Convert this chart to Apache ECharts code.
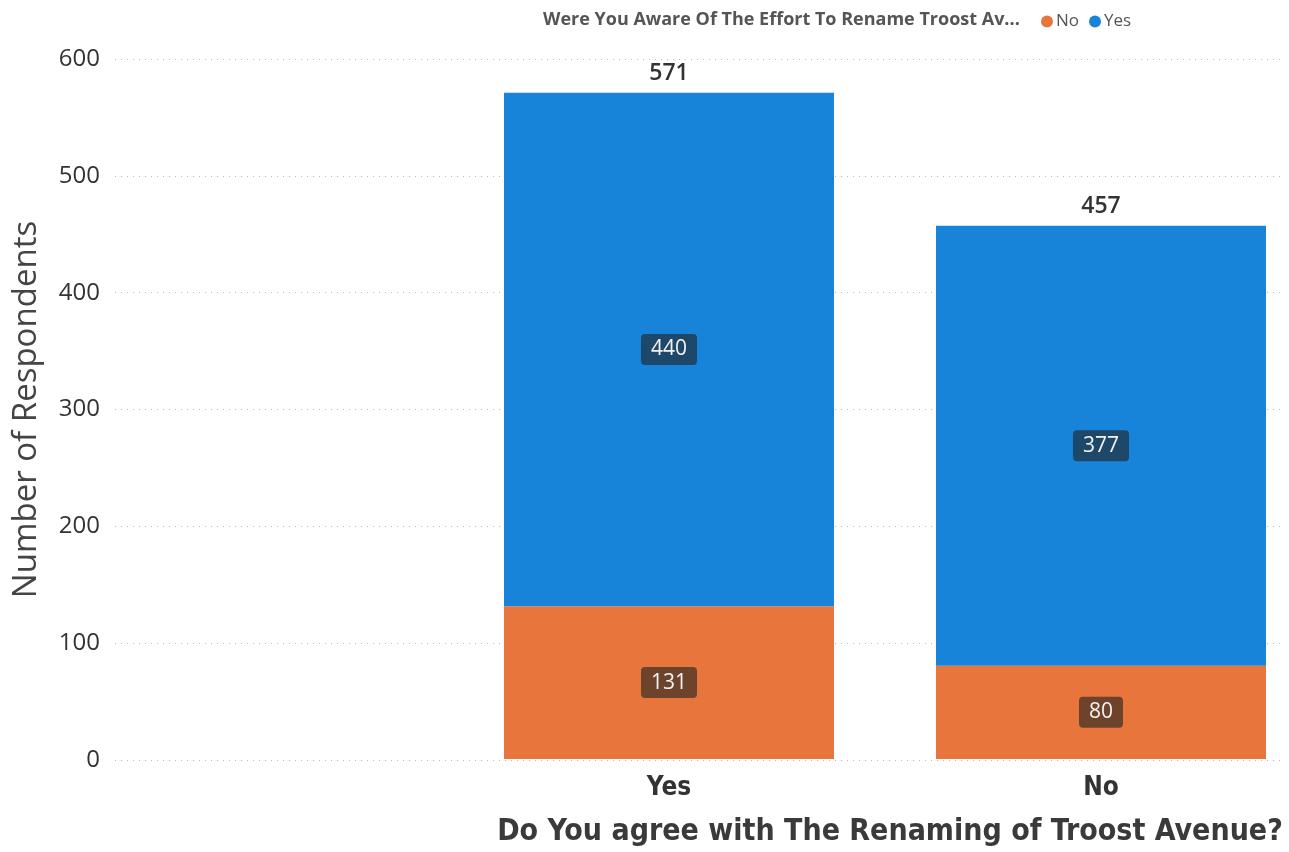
<!DOCTYPE html>
<html><head><meta charset="utf-8">
<script src="https://cdn.jsdelivr.net/npm/echarts@6/dist/echarts.min.js"></script>
<style>html,body{margin:0;padding:0;background:#fff}#c{width:1289px;height:852px}</style>
</head><body><div id="c"></div>
<script>
const categories = ['Yes', 'No'];
const awareNo = [131, 80];
const awareYes = [440, 377];
const yTicks = [0, 100, 200, 300, 400, 500, 600];
const totals = categories.map((c, i) => awareNo[i] + awareYes[i]);

const chart = echarts.init(document.getElementById('c'));
const innerLabel = {
  show: true, position: 'inside', color: '#f2f2f2', fontSize: 21,
  fontFamily: 'Open Sans, Noto Sans, sans-serif',
  backgroundColor: 'rgba(35,35,35,0.62)', borderRadius: 4, padding: [5, 10]
};
chart.setOption({
  animation: false,
  backgroundColor: '#ffffff',
  title: {
    text: 'Were You Aware Of The Effort To Rename Troost Av...',
    left: 538, top: 6,
    textStyle: { fontSize: 18, fontWeight: 'bold', color: '#555', fontFamily: 'Open Sans, sans-serif' }
  },
  legend: {
    data: ['No', 'Yes'], left: 1036, top: 8, icon: 'circle', itemWidth: 12, itemHeight: 12, itemGap: 10,
    textStyle: { fontSize: 17, color: '#555', fontFamily: 'Open Sans, sans-serif', padding: [0, 0, 0, -2] }
  },
  grid: [
    { left: 115, right: 4, top: 59, bottom: 92 },
    { left: 669, right: 188, top: 59, bottom: 92 }
  ],
  xAxis: [
    { type: 'category', gridIndex: 0, data: [''], show: false },
    {
      type: 'category', gridIndex: 1, data: categories, boundaryGap: false,
      axisLine: { show: false }, axisTick: { show: false },
      axisLabel: { fontSize: 26, fontWeight: 'bold', color: '#333', margin: 16, fontFamily: 'DejaVu Sans Condensed, Roboto, sans-serif' },
      name: 'Do You agree with The Renaming of Troost Avenue?', nameLocation: 'middle', nameGap: 58,
      nameTextStyle: { fontSize: 30, fontWeight: 'bold', color: '#3a3a3a', fontFamily: 'DejaVu Sans Condensed, Roboto, sans-serif', padding: [0, 0, 0, 10] }
    }
  ],
  yAxis: [
    {
      type: 'value', gridIndex: 0, min: yTicks[0], max: yTicks[yTicks.length - 1], interval: 100,
      axisLine: { show: false }, axisTick: { show: false },
      axisLabel: { fontSize: 24, color: '#333', margin: 15, fontFamily: 'Open Sans, sans-serif' },
      splitLine: { lineStyle: { type: [1, 5], color: '#bbb', width: 1 } },
      name: 'Number of Respondents', nameLocation: 'middle', nameGap: 72,
      nameTextStyle: { fontSize: 33, color: '#444', fontFamily: 'Open Sans, sans-serif', padding: [0, 0, 0, 0] }
    },
    { type: 'value', gridIndex: 1, min: 0, max: 600, show: false }
  ],
  series: [
    { name: 'No', type: 'bar', stack: 's', xAxisIndex: 1, yAxisIndex: 1, barWidth: 330, clip: false,
      itemStyle: { color: '#e8763c' }, label: innerLabel, data: awareNo },
    { name: 'Yes', type: 'bar', stack: 's', xAxisIndex: 1, yAxisIndex: 1, barWidth: 330, clip: false,
      itemStyle: { color: '#1784d9' }, label: innerLabel, data: awareYes },
    { name: 'Total', type: 'bar', stack: 's', xAxisIndex: 1, yAxisIndex: 1, barWidth: 330, clip: false,
      itemStyle: { color: 'transparent' }, data: totals.map(() => 0),
      label: { show: true, position: 'top', distance: 8, fontSize: 23, color: '#333', fontWeight: 600,
        fontFamily: 'Open Sans, sans-serif', formatter: p => totals[p.dataIndex] } }
  ]
});
</script></body></html>
